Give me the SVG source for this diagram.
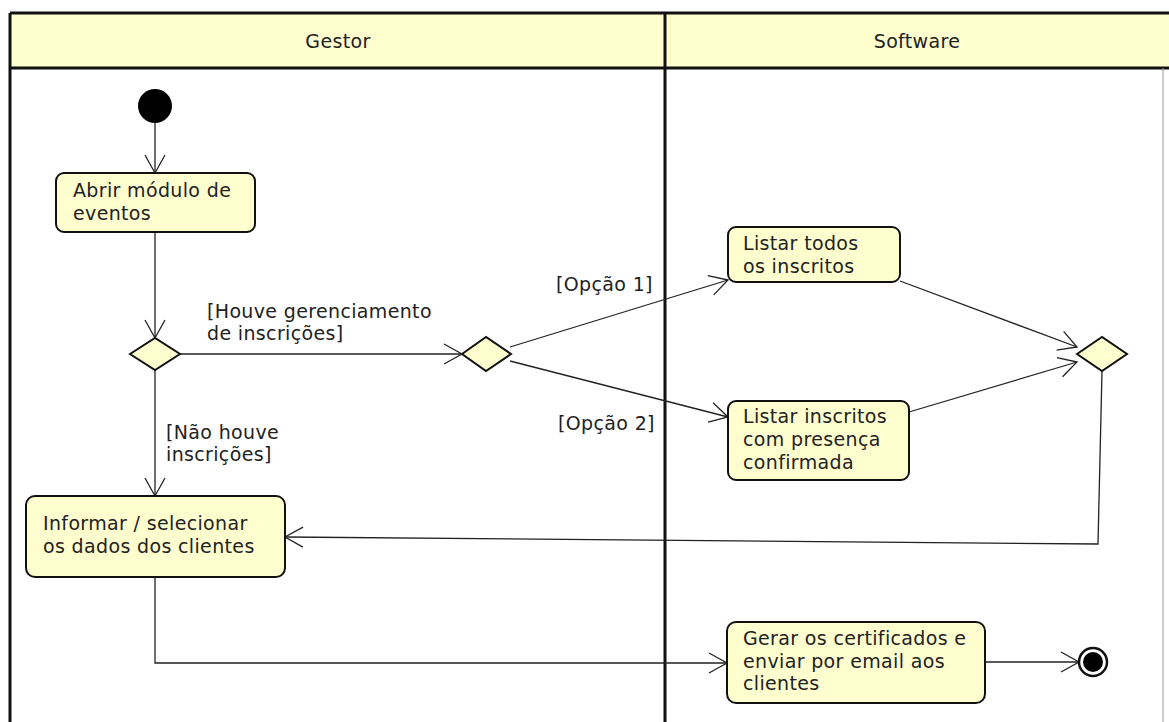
<svg xmlns="http://www.w3.org/2000/svg" width="1169" height="722" viewBox="0 0 1169 722">
<style>
text{font-family:"DejaVu Sans","Liberation Sans",sans-serif;font-size:19px;fill:#222;letter-spacing:0.35px}
.act{fill:#FEFECE;stroke:#111;stroke-width:2}
.dec{fill:#FEFECE;stroke:#111;stroke-width:2}
.edge{fill:none;stroke:#222;stroke-width:1.3}
.lane{stroke:#111;stroke-width:3;fill:none}
</style>
<defs>
<marker id="arr" markerUnits="userSpaceOnUse" markerWidth="24" markerHeight="24" refX="19" refY="11" orient="auto">
<path d="M1,1 L19,11 L1,21" fill="none" stroke="#222" stroke-width="1.3"/>
</marker>
</defs>
<rect x="0" y="0" width="1169" height="722" fill="#fff"/>
<g id="lanes">
<rect x="10" y="13" width="1160" height="55" fill="#FEFECE"/>
<line class="lane" x1="10" y1="13" x2="1169" y2="13"/>
<line class="lane" x1="10" y1="68" x2="1169" y2="68"/>
<line class="lane" x1="10" y1="13" x2="10" y2="722"/>
<line class="lane" x1="665" y1="13" x2="665" y2="722"/>
<line x1="1163" y1="68" x2="1163" y2="722" stroke="#999" stroke-width="1"/>
<text x="338" y="48" text-anchor="middle">Gestor</text>
<text x="917" y="48" text-anchor="middle">Software</text>
</g>
<g id="connectors">
<line class="edge" x1="155" y1="123" x2="155" y2="173" marker-end="url(#arr)"/>
<line class="edge" x1="155" y1="232" x2="155" y2="338" marker-end="url(#arr)"/>
<line class="edge" x1="180" y1="354" x2="462" y2="354" marker-end="url(#arr)"/>
<line class="edge" x1="155" y1="370" x2="155" y2="496" marker-end="url(#arr)"/>
<line class="edge" x1="510" y1="347" x2="728" y2="280" marker-end="url(#arr)"/>
<line class="edge" x1="510" y1="361" x2="728" y2="417" marker-end="url(#arr)"/>
<line class="edge" x1="900" y1="281" x2="1077" y2="347" marker-end="url(#arr)"/>
<line class="edge" x1="909" y1="412" x2="1077" y2="362" marker-end="url(#arr)"/>
<polyline class="edge" points="1102,371 1098,544 285,537" marker-end="url(#arr)"/>
<polyline class="edge" points="155,577 155,663 727,663" marker-end="url(#arr)"/>
<line class="edge" x1="985" y1="662" x2="1079" y2="662" marker-end="url(#arr)"/>
<text x="207" y="318">[Houve gerenciamento</text>
<text x="207" y="340">de inscrições]</text>
<text x="166" y="439">[Não houve</text>
<text x="166" y="461">inscrições]</text>
<text x="556" y="291">[Opção 1]</text>
<text x="558" y="430">[Opção 2]</text>
</g>
<g id="start"><circle cx="155" cy="106" r="17" fill="#000"/></g>
<g id="abrir">
<rect class="act" x="56" y="173" width="199" height="59" rx="8"/>
<text x="73" y="197">Abrir módulo de</text>
<text x="73" y="220">eventos</text>
</g>
<g id="dec1"><polygon class="dec" points="130,354 155,338 180,354 155,370"/></g>
<g id="dec2"><polygon class="dec" points="462,354 486,337 511,354 486,371"/></g>
<g id="listar1">
<rect class="act" x="728" y="227" width="172" height="55" rx="8"/>
<text x="743" y="250">Listar todos</text>
<text x="743" y="273">os inscritos</text>
</g>
<g id="listar2">
<rect class="act" x="728" y="401" width="181" height="79" rx="8"/>
<text x="743" y="423">Listar inscritos</text>
<text x="743" y="446">com presença</text>
<text x="743" y="469">confirmada</text>
</g>
<g id="dec3"><polygon class="dec" points="1077,354 1102,337 1127,354 1102,371"/></g>
<g id="informar">
<rect class="act" x="26" y="496" width="259" height="81" rx="9"/>
<text x="43" y="530">Informar / selecionar</text>
<text x="43" y="553">os dados dos clientes</text>
</g>
<g id="gerar">
<rect class="act" x="727" y="622" width="258" height="81" rx="9"/>
<text x="743" y="645">Gerar os certificados e</text>
<text x="743" y="668">enviar por email aos</text>
<text x="743" y="690">clientes</text>
</g>
<g id="end">
<circle cx="1093" cy="662" r="14" fill="#fff" stroke="#111" stroke-width="2.5"/>
<circle cx="1093" cy="662" r="10" fill="#000"/>
</g>
</svg>
